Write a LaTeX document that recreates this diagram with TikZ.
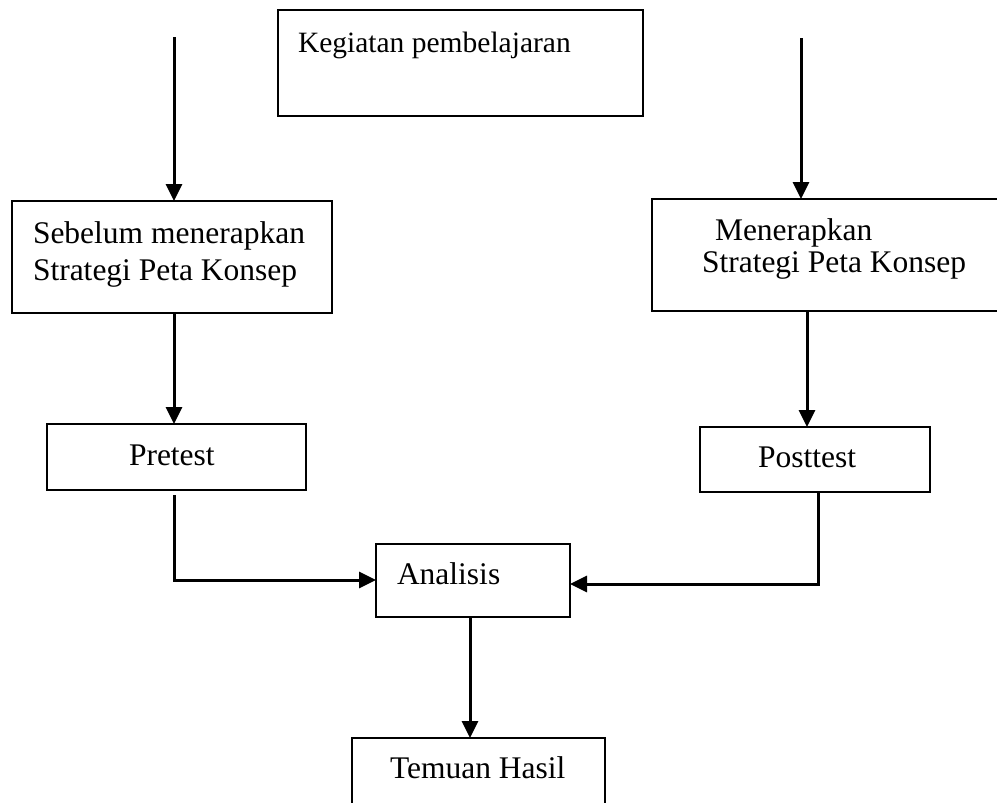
\documentclass[tikz,border=0pt]{standalone}
\usepackage{fontspec}
\setmainfont{Liberation Serif}
\usetikzlibrary{arrows.meta,calc}
\begin{document}
\begin{tikzpicture}[x=1pt,y=-1pt,
  box/.style={draw=black,line width=2.2pt,rectangle,inner sep=0pt,outer sep=0pt},
  lbl/.style={inner sep=0pt,outer sep=0pt,anchor=base west,font=\fontsize{31.5}{37}\selectfont},
  conn/.style={line width=3pt,-{Triangle[length=17pt,width=16pt]}},
  plain/.style={line width=3pt}]
\useasboundingbox (0,0) rectangle (997,803);
\clip (0,0) rectangle (997,803);
% boxes (corners measured)
\node[box,minimum width=365pt,minimum height=106pt] (top) at (460.5,63) {};
\node[box,minimum width=320pt,minimum height=112pt] (sebelum) at (172,257) {};
\node[box,minimum width=360pt,minimum height=112pt] (menerapkan) at (832,255) {};
\node[box,minimum width=259pt,minimum height=66pt] (pre) at (176.5,457) {};
\node[box,minimum width=230pt,minimum height=65pt] (post) at (815,459.5) {};
\node[box,minimum width=194pt,minimum height=73pt] (ana) at (473,580.5) {};
\node[box,minimum width=253pt,minimum height=110pt] (temu) at (478.5,793) {};
% texts
\node[lbl,font=\fontsize{29.5}{36}\selectfont] (t1) at (298,52) {Kegiatan pembelajaran};
\node[lbl] (t2) at (33,243) {Sebelum menerapkan};
\node[lbl] (t3) at (33,280) {Strategi Peta Konsep};
\node[lbl] (t4) at (715,240) {Menerapkan};
\node[lbl] (t5) at (702,272) {Strategi Peta Konsep};
\node[lbl] (t6) at (129,465) {Pretest};
\node[lbl] (t7) at (758,467) {Posttest};
\node[lbl] (t8) at (397,584) {Analisis};
\node[lbl] (t9) at (390,778) {Temuan Hasil};
% free ends
\coordinate (lstart) at (174,37);
\coordinate (rstart) at (801,38);
\coordinate (precorner) at (174,580);
\coordinate (postcorner) at (818,584);
% connectors
\draw[conn] (lstart) -- (lstart |- sebelum.north);
\draw[conn] (rstart) -- (rstart |- menerapkan.north);
\draw[conn] (lstart |- sebelum.south) -- (lstart |- pre.north);
\draw[conn] (807,0 |- menerapkan.south) -- (807,0 |- post.north);
\draw[conn] ([yshift=-5pt]lstart |- pre.south) -- (precorner) -- (precorner -| ana.west);
\draw[conn] (postcorner |- post.south) -- (postcorner) -- (postcorner -| ana.east);
\draw[conn] (470,0 |- ana.south) -- (470,0 |- temu.north);
\end{tikzpicture}
\end{document}
